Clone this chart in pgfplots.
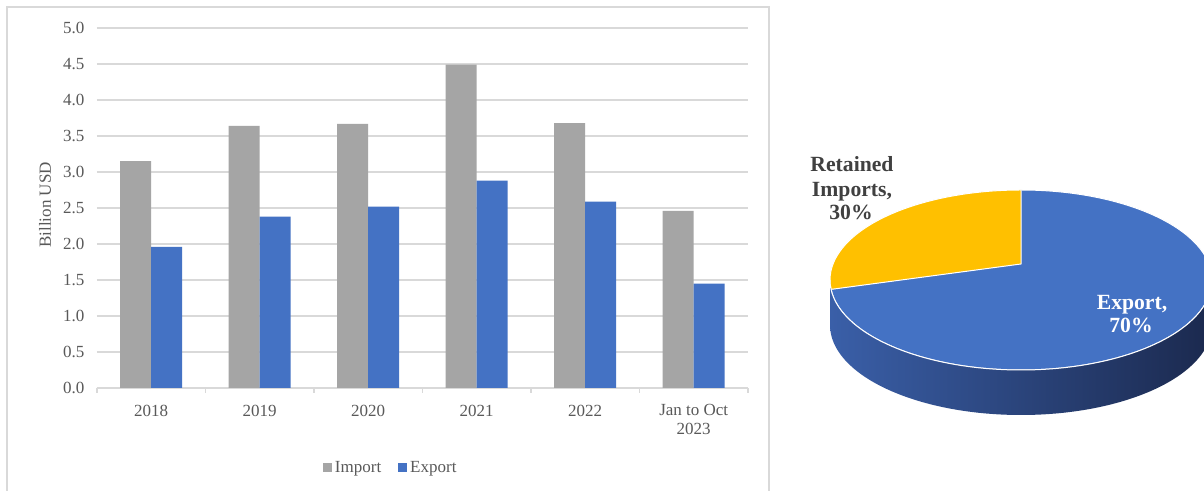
\documentclass[border=0pt]{standalone}
\usepackage{fontspec}
\setmainfont{Liberation Serif}
\usepackage{pgfplots}
\usepackage{pgfplotstable}
\pgfplotsset{compat=1.18}
\definecolor{impgray}{HTML}{A5A5A5}
\definecolor{expblue}{HTML}{4472C4}
\definecolor{pieyellow}{HTML}{FFC000}
\definecolor{gridgray}{HTML}{D9D9D9}
\definecolor{txtgray}{HTML}{595959}
\definecolor{lbldark}{HTML}{404040}
\definecolor{sideL}{RGB}{58,95,168}
\definecolor{sideR}{RGB}{27,41,78}

\pgfplotstableread{
x imp exp
0 3.15 1.96
1 3.64 2.38
2 3.67 2.52
3 4.49 2.88
4 3.68 2.59
5 2.46 1.45
}\bardata

% pie shares (percent)
\def\impshare{30}
\def\expshare{70}

\begin{document}
\begin{tikzpicture}[x=0.6pt,y=0.6pt]
\useasboundingbox (0,0) rectangle (1204,491);
\fill[white] (0,0) rectangle (1204,491);
\draw[gridgray, line width=1pt] (7,-5) -- (7,484) -- (769,484) -- (769,-5);

\begin{axis}[
  name=bars,
  at={(58.2pt,61.8pt)}, anchor=south west, scale only axis,
  width=390.6pt, height=216pt,
  ybar=0pt, bar width=18.6pt,
  xmin=-0.5, xmax=5.5, ymin=0, ymax=5,
  axis x line*=bottom, axis y line*=left,
  x axis line style={-, gridgray, line width=0.8pt},
  y axis line style={draw=none},
  xtick={0,1,2,3,4,5},
  xticklabels={2018,2019,2020,2021,2022,{Jan to Oct\\2023}},
  minor xtick={-0.5,0.5,1.5,2.5,3.5,4.5,5.5},
  major tick length=0pt, minor tick length=3pt, tick align=outside,
  minor tick style={gridgray, line width=0.8pt},
  ytick={0,0.5,...,5},
  ymajorgrids, grid style={gridgray, line width=0.8pt},
  /pgf/number format/assume math mode=true,
  yticklabel={\pgfmathprintnumber[fixed,fixed zerofill,precision=1]{\tick}},
  ticklabel style={font=\fontsize{10.2}{11.4}\selectfont, text=txtgray},
  yticklabel style={xshift=-4pt},
  xticklabel style={align=center, yshift=-6.5pt},
  legend style={at={(0.452,-0.222)}, anchor=center, draw=none, fill=none,
    legend columns=2, font=\fontsize{10.2}{12}\selectfont, text=txtgray,
    /tikz/every even column/.append style={column sep=8pt},
    inner sep=0pt},
  legend image code/.code={\fill[#1] (0pt,-2.7pt) rectangle (5.4pt,2.7pt);},
  clip=false,
]
\addplot[fill=impgray, draw=none] table[x=x, y=imp] {\bardata};
\addplot[fill=expblue, draw=none] table[x=x, y=exp] {\bardata};
\legend{Import, Export}
\end{axis}

\node[rotate=90, text=txtgray, font=\fontsize{10.2}{12}\selectfont] at (45,286) {Billion USD};

% pie chart (end angle of the imports slice, with a small perspective correction)
\pgfmathsetmacro\endang{90+3.6*\impshare-12}
\begin{axis}[
  at={(492.6pt,36.6pt)}, anchor=south west,
  x=0.6pt, y=0.6pt,
  xmin=-200, xmax=200, ymin=-150, ymax=110,
  hide axis, clip=false,
]
\coordinate (pc) at (axis cs:0,0);
% export slice (whole top)
\fill[expblue, draw=white, line width=0.6pt] (axis cs:0,0) ellipse[x radius=114.6pt, y radius=54pt];
% retained imports slice
\fill[pieyellow, draw=white, line width=0.6pt]
  (axis cs:0,16) -- (axis cs:0,90)
  arc[start angle=90, end angle=\endang, x radius=114.6pt, y radius=54pt] -- cycle;
\end{axis}
% side wall of the pie
\shade[left color=sideL, right color=sideR]
  ([xshift=-114.6pt]pc) arc[start angle=180, end angle=360, x radius=114.6pt, y radius=54pt]
  -- ++(0,-27pt)
  arc[start angle=360, end angle=180, x radius=114.6pt, y radius=54pt] -- cycle;
\draw[white, line width=0.6pt] ([xshift=-114.6pt]pc) arc[start angle=180, end angle=360, x radius=114.6pt, y radius=54pt];

\begin{scope}[every node/.style={font=\bfseries\fontsize{13}{14}\selectfont, anchor=base}]
\node[text=lbldark] at (852,319) {Retained};
\node[text=lbldark] at (852,294) {Imports,};
\node[text=lbldark] at (851,271) {\impshare\%};
\node[text=white] at (1132,181) {Export,};
\node[text=white] at (1131,158) {\expshare\%};
\end{scope}
\end{tikzpicture}
\end{document}
